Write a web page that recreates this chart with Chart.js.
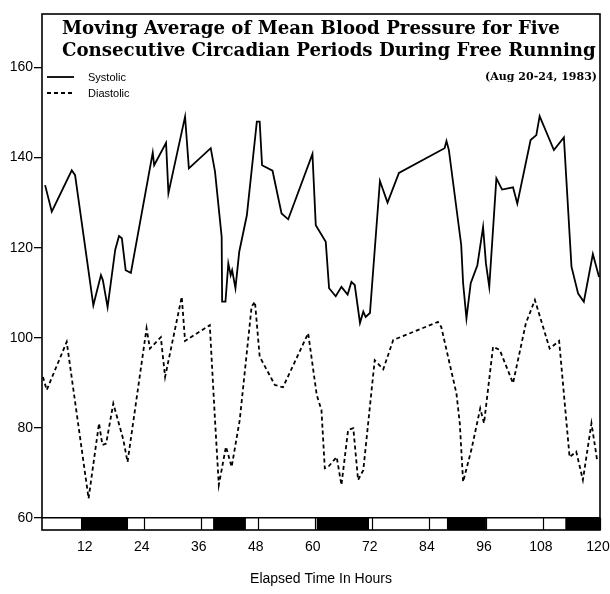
<!DOCTYPE html>
<html><head><meta charset="utf-8">
<script src="https://cdn.jsdelivr.net/npm/chart.js@4.4.0/dist/chart.umd.min.js"></script>
<style>html,body{margin:0;padding:0;background:#fff;}</style>
</head><body>
<canvas id="c" width="610" height="594"></canvas>
<script>
const titleLines = ["Moving Average of Mean Blood Pressure for Five", "Consecutive Circadian Periods During Free Running"];
const subtitle = "(Aug 20-24, 1983)";
const seriesNames = ["Systolic", "Diastolic"];
const xAxisTitle = "Elapsed Time In Hours";
const xTicks = [12, 24, 36, 48, 60, 72, 84, 96, 108, 120];
const yTicks = [60, 80, 100, 120, 140, 160];

const sysHours = [3.25,4.66,8.86,9.56,13.4,15.0,15.4,16.4,18.0,18.8,19.4,20.2,21.3,25.9,26.2,28.7,29.2,32.7,33.5,38.1,
  39.0,40.4,40.5,41.2,41.8,42.3,42.6,43.3,44.1,45.7,47.8,48.4,48.9,51.1,53.0,54.4,59.5,60.2,62.3,63.0,64.4,65.6,66.9,67.7,68.4,
  69.5,70.2,70.7,71.6,73.7,75.3,77.7,87.3,87.7,88.2,90.8,91.2,91.9,92.8,94.2,95.4,96.0,96.7,98.2,99.4,101.7,102.6,105.4,106.6,
  107.3,110.3,112.4,114.0,115.4,116.6,118.5,119.8];
const sysValues = [133.9,128.0,137.2,136.1,107.2,113.9,112.8,106.8,119.5,122.6,122.1,115.0,114.4,141.1,138.3,143.3,132.1,149.1,137.6,142.1,
  136.9,122.4,108.0,108.0,116.5,113.9,115.0,111.0,119.1,127.2,148.0,148.0,138.3,137.1,127.6,126.3,140.8,125.0,121.3,111.0,109.2,111.3,109.6,112.4,111.7,
  103.3,105.8,104.6,105.5,134.8,130.0,136.6,142.1,143.7,141.7,120.6,112.1,104.3,112.1,116.1,124.6,116.5,111.3,135.4,132.9,133.4,129.8,143.9,145.0,
  149.2,141.7,144.5,115.8,109.8,108.0,118.6,113.5];

const diaHours = [2.8,3.6,7.8,12.4,14.6,15.3,16.1,17.6,19.7,20.6,24.6,25.3,27.6,28.5,32.0,32.7,37.9,39.0,39.8,41.3,
  42.5,44.2,46.7,47.4,48.4,51.6,53.3,58.6,60.4,61.4,62.1,62.8,64.6,65.6,67.0,68.1,69.1,70.2,72.6,74.4,76.5,85.9,86.6,
  89.8,90.5,91.2,93.0,94.8,95.6,97.5,98.9,101.7,104.4,106.3,109.4,111.4,113.6,115.0,116.4,118.2,119.4];
const diaValues = [91.3,88.4,99.1,64.3,81.0,76.2,76.5,85.4,77.4,72.4,102.1,97.6,100.1,91.3,109.1,99.3,102.8,81.7,67.3,75.8,
  71.3,81.7,106.9,108.0,95.8,89.5,89.0,101.0,87.3,83.9,71.0,71.3,73.5,67.3,79.5,79.9,68.4,70.6,95.0,93.0,99.5,103.5,102.4,
  87.6,81.0,68.0,75.4,84.3,81.0,98.0,97.3,89.9,103.2,108.4,97.6,99.3,73.5,74.7,68.4,81.0,72.8];

// dark (lights-off) periods along the bottom bar, in elapsed hours
const darkPeriods = [[10.8, 20.7], [38.6, 45.5], [60.4, 71.4], [87.8, 96.0], [112.7, 120]];

const toXY = (xs, ys) => xs.map((x, i) => ({x: x, y: ys[i]}));
const sansFont = '"Liberation Sans", Arial, sans-serif';
const serifFont = '"DejaVu Serif", serif';

const decor = {
  id: 'decor',
  beforeDatasetsDraw(chart) {
    const {ctx, chartArea: a, scales: {x, y}} = chart;
    const top = y.getPixelForValue(60), bot = a.bottom;
    ctx.save();
    ctx.fillStyle = '#fff';
    ctx.fillRect(a.left, top, a.right - a.left, bot - top);
    ctx.fillStyle = '#000';
    darkPeriods.forEach(([s, e]) => {
      const x0 = x.getPixelForValue(s), x1 = x.getPixelForValue(e);
      ctx.fillRect(x0, top, x1 - x0, bot - top);
    });
    ctx.strokeStyle = '#000';
    ctx.lineWidth = 1.2;
    xTicks.forEach(t => {
      const px = Math.round(x.getPixelForValue(t)) + 0.5;
      ctx.beginPath(); ctx.moveTo(px, top); ctx.lineTo(px, bot); ctx.stroke();
    });
    ctx.lineWidth = 1.5;
    ctx.beginPath(); ctx.moveTo(a.left, top); ctx.lineTo(a.right, top); ctx.stroke();
    ctx.restore();
  },
  afterDraw(chart) {
    const {ctx, chartArea: a} = chart;
    ctx.save();
    // frame
    ctx.strokeStyle = '#000';
    ctx.lineWidth = 1.6;
    ctx.strokeRect(a.left, a.top, a.right - a.left, a.bottom - a.top);
    // title
    ctx.fillStyle = '#000';
    ctx.textBaseline = 'alphabetic';
    ctx.textAlign = 'left';
    ctx.font = 'bold 18px ' + serifFont;
    const w = ctx.measureText(titleLines[1]).width;
    const size = Math.min(20, 18 * 534 / w);
    ctx.font = 'bold ' + size.toFixed(2) + 'px ' + serifFont;
    ctx.fillText(titleLines[0], 62, 34);
    ctx.fillText(titleLines[1], 62, 56);
    ctx.font = 'bold 11px ' + serifFont;
    ctx.textAlign = 'right';
    ctx.fillText(subtitle, 597, 80);
    // legend
    ctx.textAlign = 'left';
    ctx.font = '11px ' + sansFont;
    chart.data.datasets.forEach((ds, i) => {
      const yy = 77 + i * 16;
      ctx.lineWidth = ds.borderWidth;
      ctx.setLineDash(ds.borderDash || []);
      ctx.beginPath(); ctx.moveTo(47, yy); ctx.lineTo(74, yy); ctx.stroke();
      ctx.setLineDash([]);
      ctx.fillText(ds.label, 88, yy + 4);
    });
    ctx.restore();
  }
};

new Chart(document.getElementById('c'), {
  type: 'line',
  data: {
    datasets: [
      {label: seriesNames[0], data: toXY(sysHours, sysValues), borderColor: '#000', borderWidth: 1.8, pointRadius: 0, tension: 0, fill: false},
      {label: seriesNames[1], data: toXY(diaHours, diaValues), borderColor: '#000', borderWidth: 1.8, borderDash: [4, 3], pointRadius: 0, tension: 0, fill: false}
    ]
  },
  options: {
    responsive: false,
    animation: false,
    events: [],
    layout: {padding: {top: 14, right: 10, left: 0, bottom: 0}},
    plugins: {legend: {display: false}, tooltip: {enabled: false}, title: {display: false}},
    scales: {
      x: {
        type: 'linear', min: 2.6, max: 120,
        afterBuildTicks: (axis) => { axis.ticks = xTicks.map(v => ({value: v})); },
        afterFit: (axis) => { axis.height = 64; axis.paddingLeft = 0; axis.paddingRight = 0; },
        grid: {display: false, drawTicks: false},
        border: {display: false},
        ticks: {color: '#000', font: {family: sansFont, size: 14}, padding: 9, maxRotation: 0, autoSkip: false, labelOffset: -2},
        title: {display: true, text: xAxisTitle, color: '#000', font: {family: sansFont, size: 14}, padding: {top: 0, bottom: 6}}
      },
      y: {
        type: 'linear', min: 57.3, max: 171.9,
        afterBuildTicks: (axis) => { axis.ticks = yTicks.map(v => ({value: v})); },
        afterFit: (axis) => { axis.width = 42; axis.paddingTop = 0; axis.paddingBottom = 0; },
        grid: {display: true, drawOnChartArea: false, drawTicks: true, tickLength: 8, color: '#000', lineWidth: 1.3},
        border: {display: false},
        ticks: {color: '#000', font: {family: sansFont, size: 14}, padding: 1}
      }
    }
  },
  plugins: [decor]
});
</script>
</body></html>
